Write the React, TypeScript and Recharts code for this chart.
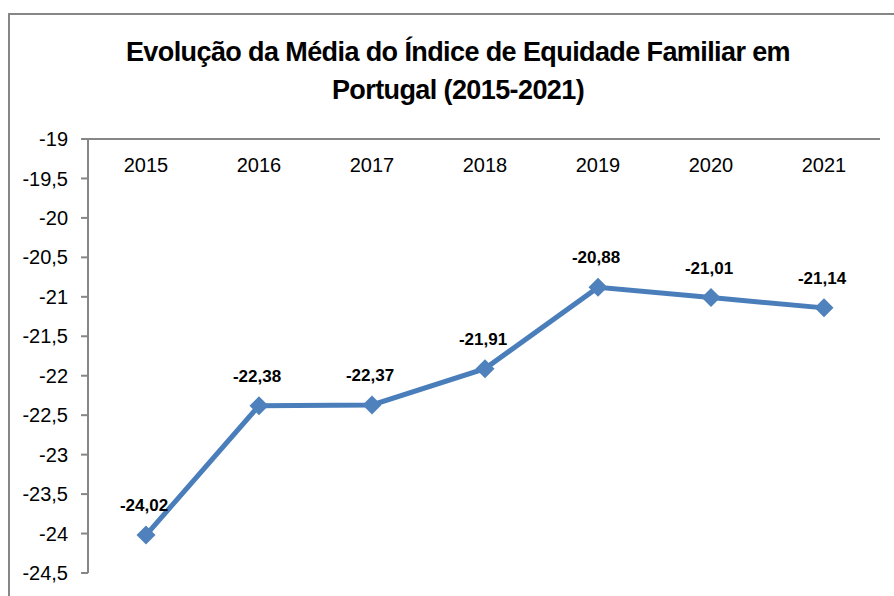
import { LineChart, Line, XAxis, YAxis, LabelList } from "recharts"

// Chart data
const years = ["2015", "2016", "2017", "2018", "2019", "2020", "2021"]
const indexValues = [-24.02, -22.38, -22.37, -21.91, -20.88, -21.01, -21.14]
const yTicks = [-19, -19.5, -20, -20.5, -21, -21.5, -22, -22.5, -23, -23.5, -24, -24.5]

const data = years.map((year, i) => ({ year, value: indexValues[i] }))

const AXIS_GRAY = "#868686"
const LINE_BLUE = "#4A7EBB"
const MARKER_BLUE = "#4F81BD"

// comma as decimal separator (pt-PT)
const fmt = (v: number) => String(v).replace(".", ",")

// year labels sit under the top axis line
const YearTick = (props: any) => {
  const { x, y, payload } = props
  return (
    <text x={x} y={y + 33} textAnchor="middle" fill="#000" fontSize={20} fontFamily="'Liberation Sans', Arial, sans-serif">
      {payload.value}
    </text>
  )
}

// diamond marker
const Diamond = (props: any) => {
  const { cx, cy, index } = props
  const r = 9.5
  return (
    <path
      key={`d-${index}`}
      d={`M${cx},${cy - r} L${cx + r},${cy} L${cx},${cy + r} L${cx - r},${cy} Z`}
      fill={MARKER_BLUE}
    />
  )
}

export default function App() {
  return (
    <div style={{ position: "fixed", left: 0, top: 0, width: 894, height: 596, overflow: "hidden", background: "#fff" }}>
      {/* outer chart frame, runs past the window on the right and bottom */}
      <div style={{ position: "absolute", left: 8, top: 13, width: 1000, height: 1000, border: `2px solid ${AXIS_GRAY}` }} />

      {/* title */}
      <div
        style={{
          position: "absolute",
          left: 0,
          width: 916,
          top: 33,
          textAlign: "center",
          fontFamily: "'Liberation Sans', Arial, sans-serif",
          fontWeight: 700,
          fontSize: 27,
          letterSpacing: -0.6,
          lineHeight: "38px",
          color: "#000",
        }}
      >
        Evolução da Média do Índice de Equidade Familiar em
        <br />
        Portugal (2015-2021)
      </div>

      <div style={{ position: "absolute", left: 0, top: 0 }}>
        <LineChart width={894} height={596} data={data} margin={{ top: 109, right: 14, bottom: 23, left: 0 }}>
          <XAxis
            dataKey="year"
            orientation="top"
            height={30}
            padding={{ left: 58, right: 56 }}
            tickLine={false}
            tickSize={0}
            tickMargin={0}
            axisLine={{ stroke: AXIS_GRAY, strokeWidth: 2 }}
            tick={<YearTick />}
            interval={0}
          />
          <YAxis
            width={88}
            domain={[-24.5, -19]}
            ticks={yTicks}
            interval={0}
            tickFormatter={fmt}
            tickSize={7}
            tickMargin={13}
            axisLine={{ stroke: AXIS_GRAY, strokeWidth: 2 }}
            tickLine={{ stroke: AXIS_GRAY, strokeWidth: 2 }}
            tick={{ fill: "#000", fontSize: 20, fontFamily: "'Liberation Sans', Arial, sans-serif" }}
            allowDataOverflow
          />
          <Line
            type="linear"
            dataKey="value"
            stroke={LINE_BLUE}
            strokeWidth={5}
            dot={<Diamond />}
            activeDot={false}
            isAnimationActive={false}
          >
            <LabelList
              dataKey="value"
              position="top"
              offset={24}
              formatter={(v: any) => fmt(v)}
              fill="#000"
              fontSize={17}
              fontWeight={700}
              fontFamily="'Liberation Sans', Arial, sans-serif"
              dx={-2}
            />
          </Line>
        </LineChart>
      </div>
    </div>
  )
}
